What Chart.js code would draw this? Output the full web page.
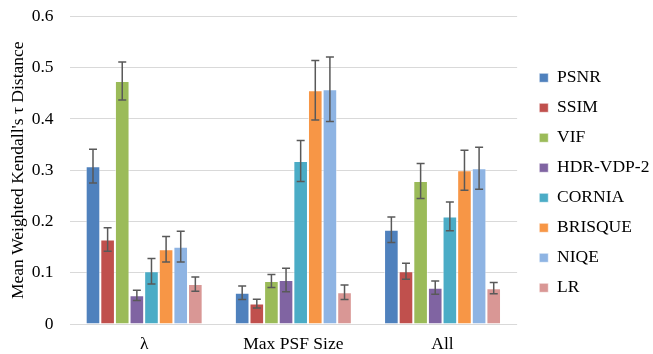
<!DOCTYPE html>
<html>
<head>
<meta charset="utf-8">
<script src="https://cdn.jsdelivr.net/npm/chart.js@4/dist/chart.umd.min.js"></script>
<style>
  html, body { margin: 0; padding: 0; background: #fff; }
  #c { display: block; }
</style>
</head>
<body>
<canvas id="c" width="653" height="354"></canvas>
<script>
const categories = ['λ', 'Max PSF Size', 'All'];
const seriesNames = ['PSNR', 'SSIM', 'VIF', 'HDR-VDP-2', 'CORNIA', 'BRISQUE', 'NIQE', 'LR'];
const psnr    = [0.308, 0.061, 0.184];
const ssim    = [0.165, 0.040, 0.103];
const vif     = [0.474, 0.084, 0.279];
const hdrvdp2 = [0.056, 0.086, 0.071];
const cornia  = [0.103, 0.318, 0.210];
const brisque = [0.146, 0.456, 0.300];
const niqe    = [0.151, 0.458, 0.304];
const lr      = [0.078, 0.062, 0.070];
const psnrErr    = [0.033, 0.013, 0.025];
const ssimErr    = [0.023, 0.0085, 0.0156];
const vifErr     = [0.037, 0.0127, 0.034];
const hdrvdp2Err = [0.010, 0.023, 0.013];
const corniaErr  = [0.025, 0.040, 0.028];
const brisqueErr = [0.025, 0.058, 0.039];
const niqeErr    = [0.030, 0.063, 0.041];
const lrErr      = [0.014, 0.014, 0.011];
const yTicks = [0, 0.1, 0.2, 0.3, 0.4, 0.5, 0.6];

const values = [psnr, ssim, vif, hdrvdp2, cornia, brisque, niqe, lr];
const errors = [psnrErr, ssimErr, vifErr, hdrvdp2Err, corniaErr, brisqueErr, niqeErr, lrErr];
const colors = ['#4F81BD', '#C0504D', '#9BBB59', '#8064A2', '#4BACC6', '#F79646', '#8EB4E3', '#D99795'];

const FONT = "'Liberation Serif', 'Times New Roman', serif";

const errorBarPlugin = {
  id: 'errorBars',
  afterDatasetsDraw(chart) {
    const ctx = chart.ctx;
    const yScale = chart.scales.y;
    ctx.save();
    ctx.strokeStyle = '#595959';
    ctx.lineWidth = 1.5;
    chart.data.datasets.forEach((ds, di) => {
      const meta = chart.getDatasetMeta(di);
      meta.data.forEach((bar, i) => {
        const v = ds.data[i];
        const e = ds.errors[i];
        const yTop = yScale.getPixelForValue(v + e);
        const yBot = yScale.getPixelForValue(v - e);
        const x = bar.x;
        const cap = 4;
        ctx.beginPath();
        ctx.moveTo(x, yTop); ctx.lineTo(x, yBot);
        ctx.moveTo(x - cap, yTop); ctx.lineTo(x + cap, yTop);
        ctx.moveTo(x - cap, yBot); ctx.lineTo(x + cap, yBot);
        ctx.stroke();
      });
    });
    ctx.restore();
  }
};

new Chart(document.getElementById('c'), {
  type: 'bar',
  data: {
    labels: categories,
    datasets: seriesNames.map((name, i) => ({
      label: name,
      data: values[i],
      errors: errors[i],
      backgroundColor: colors[i],
      borderColor: 'rgba(255,255,255,0.55)',
      borderWidth: 1,
      categoryPercentage: 0.784,
      barPercentage: 1.0
    }))
  },
  options: {
    responsive: false,
    animation: false,
    devicePixelRatio: 1,
    layout: { padding: { left: 0, right: -6.4, top: 1.6, bottom: -10 } },
    plugins: {
      legend: {
        position: 'right',
        align: 'center',
        maxWidth: 200,
        labels: {
          boxWidth: 9,
          boxHeight: 9,
          padding: 12.5,
          color: '#000',
          font: { family: FONT, size: 17.5 }
        }
      },
      tooltip: { enabled: false }
    },
    scales: {
      x: {
        grid: { display: false, drawTicks: false },
        border: { display: false },
        ticks: {
          color: '#000',
          padding: 15.6,
          font: { family: FONT, size: 17.5, lineHeight: 0.5 }
        }
      },
      y: {
        min: 0,
        max: 0.6,
        afterBuildTicks(scale) { scale.ticks = yTicks.map(v => ({ value: v })); },
        grid: { color: '#D9D9D9', lineWidth: 1, drawTicks: false },
        border: { display: false },
        ticks: {
          color: '#000',
          padding: 16,
          font: { family: FONT, size: 17.5, lineHeight: 0.05 },
          callback: (v) => String(Math.round(v * 10) / 10)
        },
        title: {
          display: true,
          text: "Mean Weighted Kendall's τ Distance",
          color: '#000',
          padding: { top: 7.5, bottom: -12.8 },
          font: { family: FONT, size: 17.5, lineHeight: 1.2 }
        }
      },
      spacer: {
        type: 'linear',
        position: 'right',
        display: true,
        grid: { display: false, drawTicks: false },
        border: { display: false },
        ticks: { display: false },
        afterFit(scale) { scale.width = 9.65; }
      }
    }
  },
  plugins: [errorBarPlugin]
});
</script>
</body>
</html>
